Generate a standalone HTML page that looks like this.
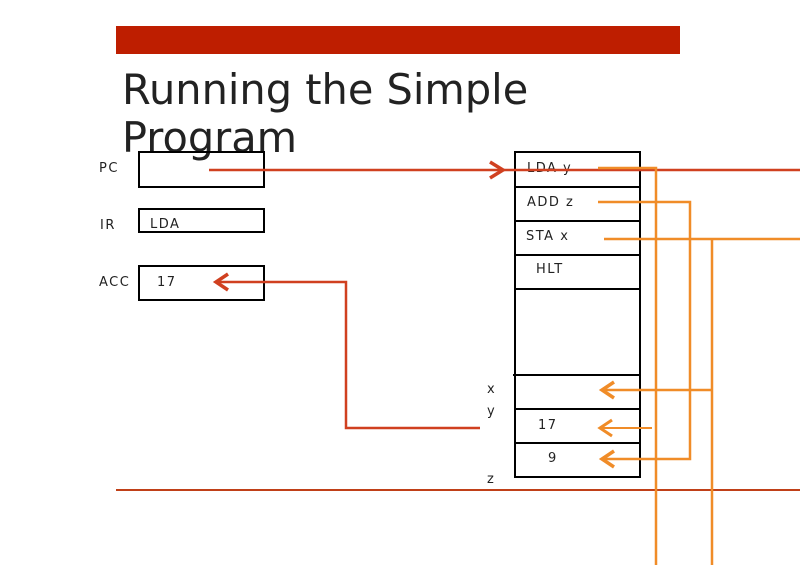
<!DOCTYPE html>
<html><head><style>body{margin:0;background:#fff}svg{display:block}</style></head><body>
<svg width="800" height="565" viewBox="0 0 800 565" xmlns="http://www.w3.org/2000/svg">
<rect x="116" y="26" width="564" height="28" fill="#be1e00"/>
<text x="122" y="104" font-family="DejaVu Sans, Liberation Sans, sans-serif" font-size="41.5" fill="#222">Running the Simple</text>
<text x="122" y="152" font-family="DejaVu Sans, Liberation Sans, sans-serif" font-size="41.5" fill="#222">Program</text>
<g fill="none" stroke="#000" stroke-width="2">
<rect x="139" y="152" width="125" height="35"/>
<rect x="139" y="209" width="125" height="23"/>
<rect x="139" y="266" width="125" height="34"/>
<rect x="515" y="152" width="125" height="325"/>
<path d="M515 187H640M515 221H640M515 255H640M515 289H640M513 375H640M515 409H640M515 443H640"/>
</g>
<g font-family="DejaVu Sans, Liberation Sans, sans-serif" font-size="13" fill="#222" letter-spacing="1.5">
<text x="99" y="172">PC</text><text x="100" y="229">IR</text><text x="99" y="286">ACC</text>
<text x="150" y="228">LDA</text><text x="157" y="286">17</text>
<text x="527" y="172">LDA y</text><text x="527" y="206">ADD z</text><text x="526" y="240">STA x</text><text x="536" y="273">HLT</text>
<text x="538" y="429">17</text><text x="548" y="462">9</text>
<text x="487" y="393">x</text><text x="487" y="415">y</text><text x="487" y="483">z</text>
</g>
<g fill="none" stroke="#d04020" stroke-width="2.5">
<path d="M209 170H800"/><path d="M490 162L503 170L490 178" stroke-width="3.5"/>
<path d="M480 428H346V282H216"/><path d="M228 274L216 282L228 290" stroke-width="3.5"/>
</g>
<path d="M116 490H800" stroke="#c04018" stroke-width="2"/>
<g fill="none" stroke="#f08c28" stroke-width="2.5">
<path d="M598 168H656V565"/>
<path d="M598 202H690V459H602"/><path d="M614 451L602 459L614 467" stroke-width="3.5"/>
<path d="M604 239H800M712 239V565M712 390H602"/><path d="M614 382L602 390L614 398" stroke-width="3.5"/>
<path d="M652 428H600" stroke-width="2"/><path d="M612 420L600 428L612 436" stroke-width="3"/>
</g>
</svg>
</body></html>
